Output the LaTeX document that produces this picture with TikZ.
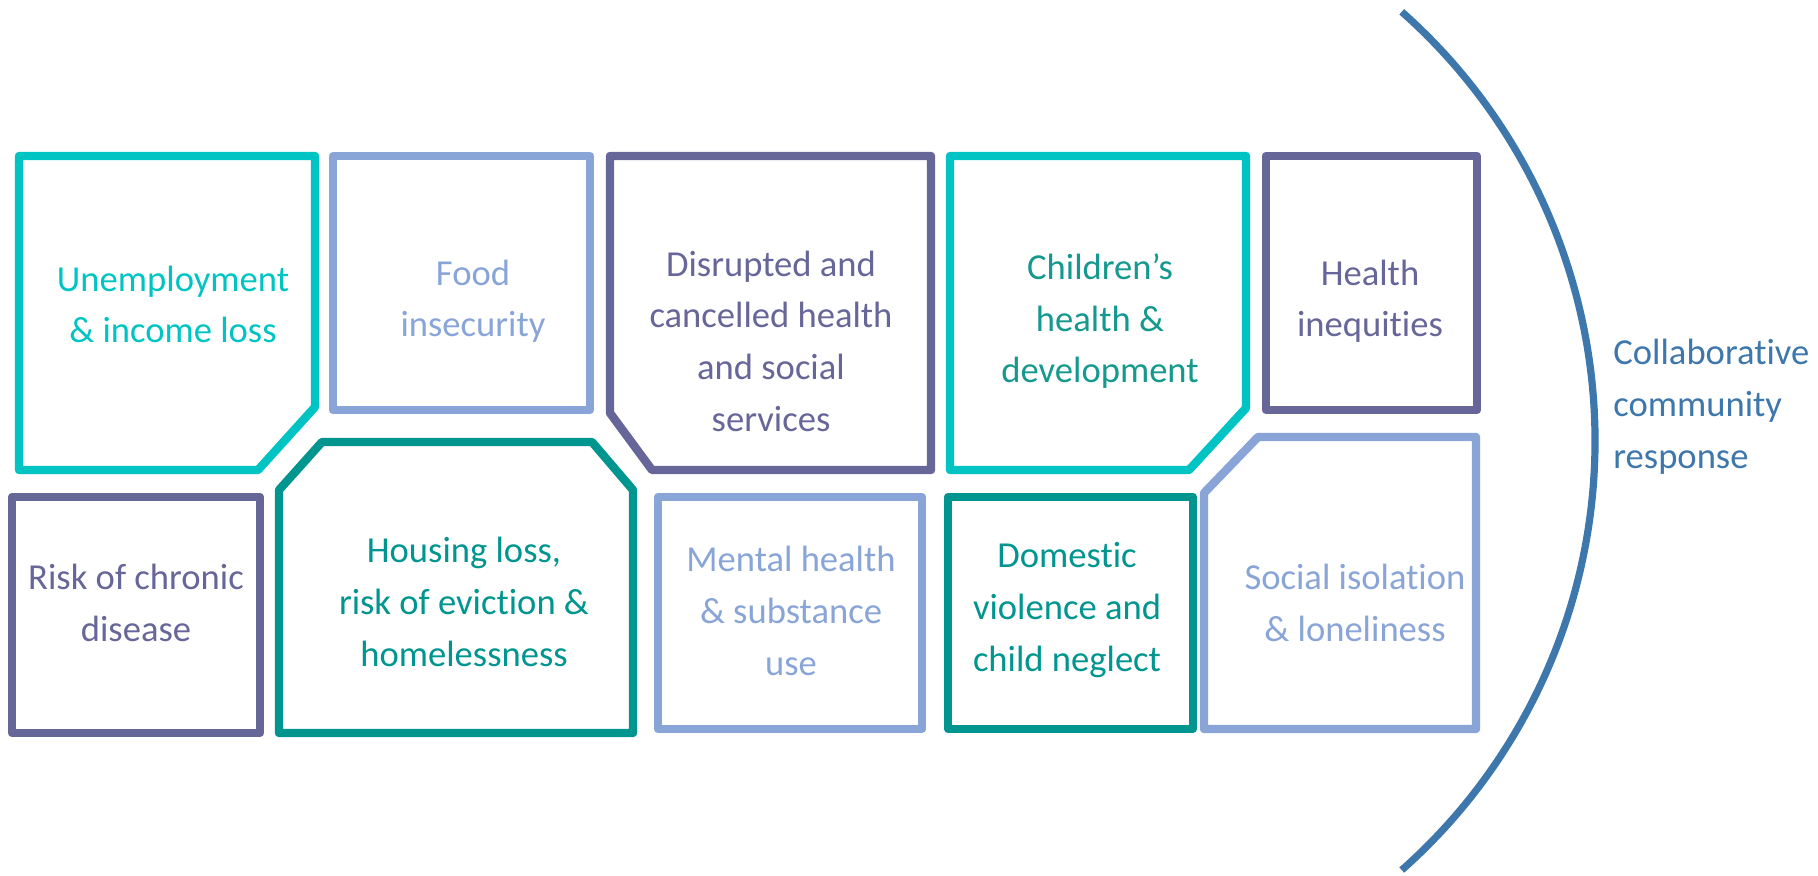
\documentclass[tikz,border=0pt]{standalone}
\usepackage{fontspec}
\setmainfont[Ligatures=NoCommon]{Carlito}
\definecolor{cyanc}{HTML}{00C4C3}
\definecolor{tealc}{HTML}{00958F}
\definecolor{bluec}{HTML}{89A5D8}
\definecolor{purplec}{HTML}{666699}
\definecolor{kidc}{HTML}{15998F}
\definecolor{arcc}{HTML}{3D77AC}

\begin{document}
\begin{tikzpicture}[x=0.5pt,y=-0.5pt,
  box/.style={line width=4.2pt,line join=round},
  lbl/.style={anchor=base,align=center,font=\fontsize{18.3}{25.8}\selectfont,inner sep=0pt}]
 \xdef\r{573}
 \useasboundingbox (0,0) rectangle (1818,876);
  \begin{scope}
    \draw[box,cyanc] (19,156) -- (315,156) -- (315,407) -- (258,470) -- (19,470) -- cycle;
    \draw[box,bluec] (333,156) rectangle (590,410);
    \draw[box,purplec] (610,156) -- (931,156) -- (931,470) -- (652,470) -- (610,413) -- cycle;
    \draw[box,cyanc] (950,156) -- (1246,156) -- (1246,408) -- (1189,470) -- (950,470) -- cycle;
    \draw[box,purplec] (1266,156) rectangle (1477,410);
    \node[lbl,cyanc] (unemp) at (173,343) {Unemployment\\\& income loss};
    \node[lbl,bluec] (food) at (473,337) {Food\\insecurity};
    \node[lbl,purplec] (disr) at (771,431) {Disrupted and\\cancelled health\\and social\\services};
    \node[lbl,kidc] (child) at (1100,383) {Children’s\\health \&\\development};
    \node[lbl,purplec] (ineq) at (1370,337) {Health\\inequities};
  \end{scope}
  \begin{scope}
    \draw[box,purplec] (12,497) rectangle (260,733);
    \draw[box,tealc] (279,490) -- (322,442) -- (592,442) -- (633,490) -- (633,733) -- (279,733) -- cycle;
    \draw[box,bluec] (658,497) rectangle (922,729);
    \draw[box,tealc] (948,497) rectangle (1193,729);
    \draw[box,bluec] (1204,493) -- (1258,437) -- (1476,437) -- (1476,729) -- (1204,729) -- cycle;
    \node[lbl,purplec] (risk) at (136,641) {Risk of chronic\\disease};
    \node[lbl,tealc] (house) at (464,666) {Housing loss,\\risk of eviction \&\\homelessness};
    \node[lbl,bluec] (mental) at (791,675) {Mental health\\\& substance\\use};
    \node[lbl,tealc] (dom) at (1067,671) {Domestic\\violence and\\child neglect};
    \node[lbl,bluec] (social) at (1355,641) {Social isolation\\\& loneliness};
  \end{scope}
  \coordinate (mid) at (1022,441);
  \draw[arcc,line width=3.6pt] (1401.7,11.8) arc[start angle=-48.5,end angle=48.5,radius=\r];
  \node[lbl,anchor=base west,align=left,text=arcc] (resp) at (1613,468) {Collaborative\\community\\response};
\end{tikzpicture}
\end{document}
